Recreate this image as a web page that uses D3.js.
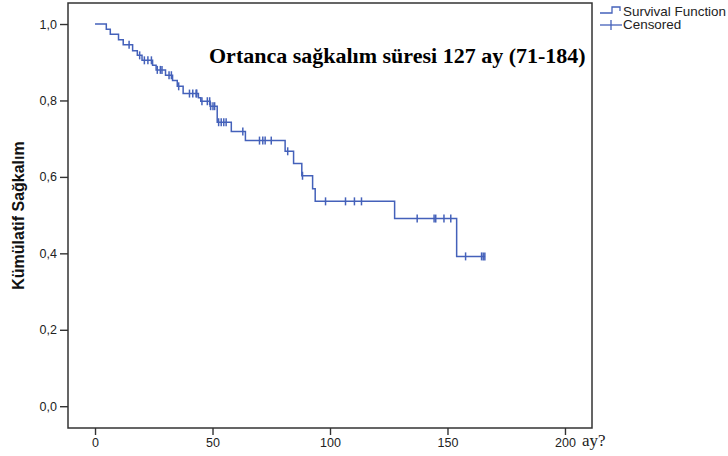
<!DOCTYPE html>
<html>
<head>
<meta charset="utf-8">
<script src="https://cdn.jsdelivr.net/npm/d3@7"></script>
<style>
  body { margin: 0; background: #ffffff; }
  svg { display: block; }
  .axis text { font-family: "Liberation Sans", Arial, sans-serif; font-size: 12.5px; fill: #222; }
  .axis line { stroke: #333; stroke-width: 1.4; }
  .axis path { display: none; }
</style>
</head>
<body>
<svg id="kmSvg" width="728" height="456"></svg>
<script>
// event times (months) and survival after each step
let eventTimes = [0, 4.8, 6.5, 10, 12, 16, 18, 20, 24.5, 26, 30, 33, 35, 37.5, 44, 45, 49, 52, 58, 64, 80.9, 84.5, 88, 92.6, 93.7, 127.5, 153.9];
let survival = [1.0, 0.986, 0.973, 0.959, 0.946, 0.930, 0.918, 0.905, 0.892, 0.880, 0.866, 0.852, 0.837, 0.818, 0.807, 0.798, 0.785, 0.743, 0.719, 0.695, 0.667, 0.635, 0.603, 0.569, 0.536, 0.491, 0.392];
// censored observations (months)
let censorTimes = [14.5, 19, 21, 22.5, 24, 26.5, 27.8, 28.5, 31.5, 32.5, 35.6, 40.2, 41.6, 43, 43.3, 45.5, 47.8, 48.8, 49.2, 50.2, 50.9,
    52.6, 53.7, 54.8, 55.8, 62.9, 70, 71.4, 72.4, 75, 82, 88.3, 98.1, 106.6, 110.4, 113.4,
    137.1, 144.3, 145, 148.5, 151.4, 157.7, 164.5, 165.2, 165.9];
let lastTime = 166;
let xTicks = [0, 50, 100, 150, 200];
let yTicks = [0, 0.2, 0.4, 0.6, 0.8, 1.0];
let legendLabels = ['Survival Function', 'Censored'];

let lineColour = '#4461ba';

function survivalAt(t) {
    let s = 1;
    for (let i = 0; i < eventTimes.length; i++) {
        if (eventTimes[i] <= t) s = survival[i];
    }
    return s;
}

let svg = d3.select('#kmSvg');
let plotLeft = 68, plotRight = 592, plotTop = 3, plotBottom = 428;

let xScale = d3.scaleLinear().domain([-11.5, 211.5]).range([plotLeft, plotRight]);
let yScale = d3.scaleLinear().domain([-0.057, 1.055]).range([plotBottom, plotTop]);

//axes
svg.append('g')
    .attr('class', 'axis')
    .attr('transform', `translate(${plotLeft}, 0)`)
    .call(d3.axisLeft(yScale)
        .tickValues(yTicks)
        .tickSize(8)
        .tickPadding(3)
        .tickFormat(d => d3.format('.1f')(d).replace('.', ',')));

svg.append('g')
    .attr('class', 'axis')
    .attr('transform', `translate(0, ${plotBottom})`)
    .call(d3.axisBottom(xScale)
        .tickValues(xTicks)
        .tickSize(7)
        .tickPadding(3));

//frame
svg.append('rect')
    .attr('x', plotLeft)
    .attr('y', plotTop)
    .attr('width', plotRight - plotLeft)
    .attr('height', plotBottom - plotTop)
    .attr('fill', 'none')
    .attr('stroke', '#333')
    .attr('stroke-width', 1.5);

//survival curve
let pts = eventTimes.map((t, i) => [t, survival[i]]);
pts.push([lastTime, survival[survival.length - 1]]);

svg.append('path')
    .datum(pts)
    .attr('fill', 'none')
    .attr('stroke', lineColour)
    .attr('stroke-width', 1.5)
    .attr('d', d3.line()
        .x(d => xScale(d[0]))
        .y(d => yScale(d[1]))
        .curve(d3.curveStepAfter));

//censor marks
svg.append('g').selectAll('line')
    .data(censorTimes)
    .enter()
    .append('line')
    .attr('x1', d => xScale(d))
    .attr('x2', d => xScale(d))
    .attr('y1', d => yScale(survivalAt(d)) - 4)
    .attr('y2', d => yScale(survivalAt(d)) + 4)
    .attr('stroke', lineColour)
    .attr('stroke-width', 1.5);

//legend
let lg = svg.append('g');
lg.append('path')
    .attr('d', 'M600,13 H612 V7 H620 V11')
    .attr('fill', 'none')
    .attr('stroke', lineColour)
    .attr('stroke-width', 1.3);
lg.append('line')
    .attr('x1', 600).attr('x2', 622)
    .attr('y1', 25).attr('y2', 25)
    .attr('stroke', lineColour)
    .attr('stroke-width', 1.3);
lg.append('line')
    .attr('x1', 611).attr('x2', 611)
    .attr('y1', 20).attr('y2', 30)
    .attr('stroke', lineColour)
    .attr('stroke-width', 1.3);
lg.selectAll('text')
    .data(legendLabels)
    .enter()
    .append('text')
    .attr('transform', (d, i) => `translate(623, ${16 + i * 13}) scale(1.12, 1)`)
    .attr('font-family', '"Liberation Sans", Arial, sans-serif')
    .attr('font-size', '12px')
    .attr('fill', '#222')
    .text(d => d);

//labels
svg.append('text')
    .attr('transform', `translate(24, ${(plotTop + plotBottom) / 2}) rotate(-90)`)
    .attr('text-anchor', 'middle')
    .attr('font-family', '"Liberation Sans Narrow", "Arial Narrow", "Liberation Sans", sans-serif')
    .attr('font-weight', 'bold')
    .attr('font-size', '16px')
    .attr('fill', '#111')
    .text('Kümülatif Sağkalım');

svg.append('text')
    .attr('x', 209)
    .attr('y', 63)
    .attr('font-family', '"Liberation Serif", "Times New Roman", serif')
    .attr('font-weight', 'bold')
    .attr('font-size', '22px')
    .attr('fill', '#000')
    .text('Ortanca sağkalım süresi 127 ay (71-184)');

svg.append('text')
    .attr('x', 582)
    .attr('y', 446)
    .attr('font-family', '"Liberation Serif", "Times New Roman", serif')
    .attr('font-size', '17px')
    .attr('fill', '#222')
    .text('ay?');
</script>
</body>
</html>
